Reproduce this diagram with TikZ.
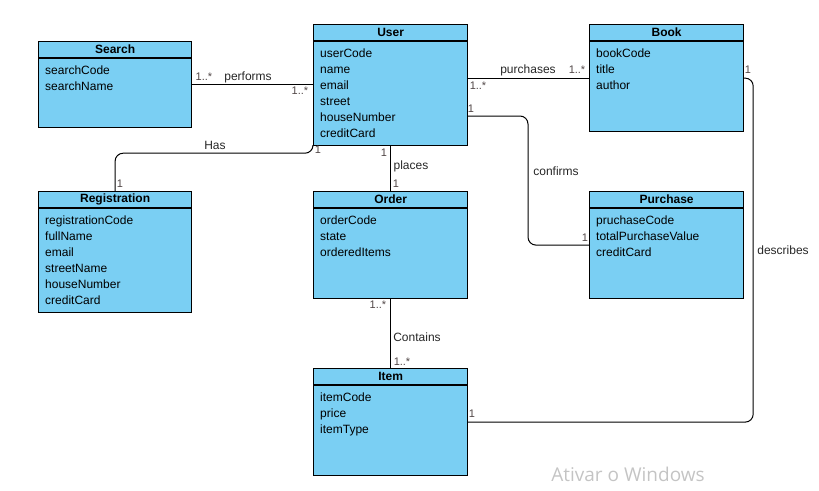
\documentclass[tikz,border=0pt]{standalone}
\usepackage{fontspec}
\setmainfont{Liberation Sans}
\newfontfamily\wmfont{Open Sans}
\usetikzlibrary{calc}
\definecolor{classfill}{RGB}{122,207,243}
\definecolor{multcol}{RGB}{80,70,70}
\definecolor{wmcol}{RGB}{196,196,196}
\tikzset{
  classbox/.style={draw=black, line width=1.2pt, fill=classfill, anchor=north west, inner sep=0pt},
  classtitle/.style={anchor=north, minimum height=17pt, inner sep=0pt, font=\fontsize{12}{14}\selectfont\bfseries},
  attr/.style={anchor=base west, inner sep=0pt, font=\fontsize{12}{14}\selectfont},
  assoc/.style={draw=black, line width=1pt, rounded corners=8pt},
  rolelbl/.style={inner sep=0pt, font=\fontsize{12}{14}\selectfont, text=black!85},
  mult/.style={inner sep=0pt, font=\fontsize{11}{13}\selectfont, text=multcol},
}
% one UML class: name, top-left x, top-left y, width, height, title, attribute list
\newcommand{\umlclass}[7]{%
  \node[classbox, minimum width=#4pt, minimum height=#5pt] (#1) at (#2,#3) {};
  \draw[line width=1.2pt] ($(#1.north west)+(0,17)$) -- ($(#1.north east)+(0,17)$);
  \node[classtitle] (#1-t) at (#1.north) {#6};
  \foreach \a [count=\i] in {#7}
    \node[attr] (#1-a\i) at ($(#1.north west)+(7,16*\i+17)$) {\a};
}
\begin{document}
\begin{tikzpicture}[x=1pt, y=-1pt]
\useasboundingbox (0,0) rectangle (819,490);

\umlclass{search}{38}{41}{153}{86}{Search}{searchCode,searchName}
\umlclass{user}{313}{24}{154}{121}{User}{userCode,name,email,street,houseNumber,creditCard}
\umlclass{book}{589}{24}{154}{107}{Book}{bookCode,title,author}
\umlclass{registration}{38}{191}{153}{121}{Registration}{registrationCode,fullName,email,streetName,houseNumber,creditCard}
\umlclass{order}{313}{191}{154}{107}{Order}{orderCode,state,orderedItems}
\umlclass{purchase}{589}{191}{154}{107}{Purchase}{pruchaseCode,totalPurchaseValue,creditCard}
\umlclass{item}{313}{368}{154}{107}{Item}{itemCode,price,itemType}

% associations
\draw[assoc] (search.east) -- (search.east -| user.west);
\draw[assoc] (user.south west) -- ++(0,7) -| (registration.north);
\draw[assoc] (user.south) -- (order.north);
\draw[assoc] (user.east |- book.west) -- (book.west);
\coordinate (cfbend) at ($(purchase.west)+(-61,0)$);
\draw[assoc] ($(user.north east)+(0,92)$) -| (cfbend) -- (purchase.west);
\draw[assoc] (book.east) -- ++(9,0) |- (item.east);
\draw[assoc] (order.south) -- (item.north);

% role names and multiplicities
\node[mult] (m1) at (204,77) {1..*};
\node[rolelbl] (l1) at (248,77) {performs};
\node[mult] (m2) at (300,91) {1..*};
\node[rolelbl] (l2) at (215,145) {Has};
\node[mult] (m3) at (318,150) {1};
\node[mult] (m4) at (120,184) {1};
\node[mult] (m5) at (384,153) {1};
\node[rolelbl] (l3) at (411,166) {places};
\node[mult] (m6) at (396,184) {1};
\node[rolelbl] (l4) at (528,70) {purchases};
\node[mult] (m7) at (577,70) {1..*};
\node[mult] (m8) at (478,86) {1..*};
\node[mult] (m9) at (471,109) {1};
\node[rolelbl] (l5) at (556,171) {confirms};
\node[mult] (m10) at (585,238) {1};
\node[mult] (m11) at (748,70) {1};
\node[rolelbl] (l6) at (783,250) {describes};
\node[mult] (m12) at (472,414) {1};
\node[mult] (m13) at (378,305) {1..*};
\node[rolelbl] (l7) at (417,337) {Contains};
\node[mult] (m14) at (402,362) {1..*};

% system watermark
\node[inner sep=0pt, text=wmcol, font=\wmfont\fontsize{19}{22}\selectfont] (wm) at (628,474) {Ativar o Windows};
\end{tikzpicture}
\end{document}
